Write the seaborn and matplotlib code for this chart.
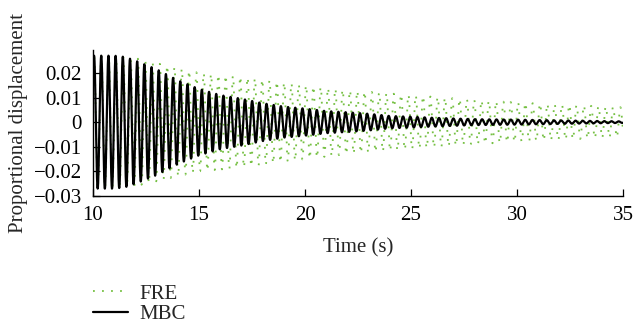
import numpy as np
import pandas as pd
import matplotlib
matplotlib.use("Agg")
import matplotlib.pyplot as plt
import seaborn as sns

# --- data ---
# envelope (peak amplitude) of each response, read at these times (s)
mbc_env_t = [10, 11, 11.5, 12, 13, 14, 15, 16, 17, 18, 19, 20, 21, 22, 23, 24, 25, 26, 27, 28, 30, 32, 35]
mbc_env_a = [0.027, 0.027, 0.0265, 0.025, 0.0215, 0.017, 0.0135, 0.011, 0.0095, 0.0077, 0.0063,
             0.0055, 0.0045, 0.004, 0.0034, 0.0025, 0.0022, 0.0018, 0.0015, 0.0012, 0.001, 0.0007, 0.0003]
fre_env_t = [10, 12, 13, 14, 15, 17, 20, 22, 25, 28, 30, 35]
fre_env_a = [0.027, 0.026, 0.024, 0.022, 0.020, 0.0185, 0.015, 0.013, 0.011, 0.009, 0.008, 0.006]
mbc_freq_hz = 2.95   # read from peak spacing
fre_freq_hz = 2.90
peak_time = 10.05

series_names = ["FRE", "MBC"]
x_ticks = [10, 15, 20, 25, 30, 35]
y_ticks = [-0.03, -0.02, -0.01, 0, 0.01, 0.02]
y_tick_labels = ["\u22120.03", "\u22120.02", "\u22120.01", "0", "0.01", "0.02"]

# --- build the traces ---
t = np.arange(10, 35.0001, 0.004)
mbc = np.interp(t, mbc_env_t, mbc_env_a) * np.cos(2 * np.pi * mbc_freq_hz * (t - peak_time))
fre = np.interp(t, fre_env_t, fre_env_a) * np.cos(2 * np.pi * fre_freq_hz * (t - peak_time))
df_fre = pd.DataFrame({"t": t, "v": fre})
df_mbc = pd.DataFrame({"t": t, "v": mbc})

sns.set_style("ticks")
plt.rcParams["font.family"] = ["Liberation Serif", "DejaVu Serif"]

FS = 15
fig = plt.figure(figsize=(6.34, 3.28), dpi=100)
ax = fig.add_axes([93 / 634, 1 - 196 / 328, 530 / 634, 146 / 328])

sns.lineplot(data=df_fre, x="t", y="v", ax=ax, color="#76c043", linewidth=1.3,
             linestyle=(0, (1, 4)), label=series_names[0], sort=False, estimator=None)
sns.lineplot(data=df_mbc, x="t", y="v", ax=ax, color="black", linewidth=1.6,
             label=series_names[1], sort=False, estimator=None)

ax.set_xlim(10, 35)
ax.set_ylim(-0.03, 0.0293)
ax.set_xticks(x_ticks)
ax.set_xticklabels([str(v) for v in x_ticks])
ax.set_yticks(y_ticks)
ax.set_yticklabels(y_tick_labels)
ax.tick_params(direction="in", length=5, width=0.9, labelsize=FS, colors="black")
ax.tick_params(axis="x", pad=7)
ax.tick_params(axis="y", pad=8)
for s in ["top", "right"]:
    ax.spines[s].set_visible(False)
for s in ["left", "bottom"]:
    ax.spines[s].set_linewidth(1.0)
    ax.spines[s].set_color("black")
ax.set_xlabel("Time (s)", fontsize=FS, labelpad=10)
ax.set_ylabel("Proportional displacement", fontsize=FS, labelpad=4)

ax.get_legend().remove()
h, l = ax.get_legend_handles_labels()
fig.legend(h, l, loc="upper left", bbox_to_anchor=(93 / 634, 1 - 284 / 328), frameon=False,
           fontsize=FS, handlelength=1.7, handletextpad=0.55, labelspacing=0.05,
           borderpad=0, borderaxespad=0)

fig.savefig("out.png", dpi=100)
